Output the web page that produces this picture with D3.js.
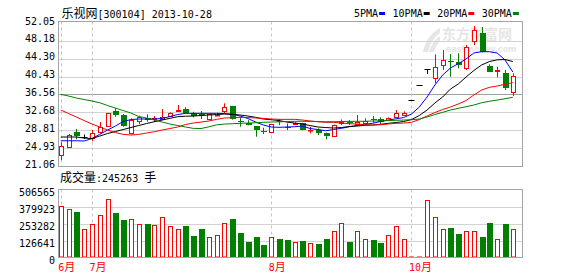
<!DOCTYPE html>
<html><head><meta charset="utf-8">
<script src="https://cdn.jsdelivr.net/npm/d3@7"></script>
<style>html,body{margin:0;padding:0;background:#fff;} svg{display:block;}</style>
</head><body>
<svg id="chart" width="578" height="276"></svg>
<script>
// ---------------- data ----------------
const stockName = "乐视网";
const stockCode = "300104";
const chartDate = "2013-10-28";
const lastVolume = 245263;

const opens  = [23.37,25.17,28.36,27.40,27.19,28.42,29.79,32.97,32.11,28.14, 30.87,31.39,31.17,31.17,31.89,32.91,33.41,32.47,32.30,31.24, 32.10,33.04,34.06,30.90,30.43,29.72,28.70,28.47,30.80,29.60, 30.20,30.31,28.80,28.86,28.27,27.61,30.45,30.55,30.14,30.30, 31.20,31.24,31.02,31.61,32.04,35.36,38.55,42.08,40.06,42.94, 43.90,43.66,42.23,48.21,49.88,42.73,41.60,41.28,37.16];
const highs  = [26.19,27.99,29.07,27.90,28.85,30.59,32.50,33.56,32.32,31.39, 31.96,32.26,31.90,33.41,32.70,34.27,33.78,32.82,32.97,32.30, 32.60,34.64,34.10,31.61,30.99,29.75,29.35,30.10,31.24,30.29, 30.50,30.40,29.56,29.22,28.30,30.00,31.14,31.00,32.11,31.39, 31.89,31.61,31.60,33.19,32.91,35.36,38.55,42.08,45.26,46.20, 45.33,45.48,47.28,51.40,51.18,43.10,42.58,41.86,41.15];
const lows   = [22.35,25.17,26.84,26.90,26.47,28.14,29.79,31.72,29.60,27.92, 30.16,30.65,30.60,31.00,31.80,32.90,32.43,31.61,31.24,31.20, 32.05,32.47,31.10,29.56,29.87,27.40,27.99,28.14,29.92,28.86, 30.00,28.80,28.12,27.77,26.84,27.60,29.94,29.94,30.10,30.20, 30.43,30.16,31.00,31.60,32.00,35.36,38.55,40.99,38.98,41.86, 40.41,42.23,41.86,47.28,45.65,41.40,40.27,37.51,36.23];
const closes = [25.45,27.84,27.55,27.40,28.14,29.57,32.47,32.11,29.79,31.02, 31.61,31.02,31.52,31.61,32.47,33.19,32.61,31.89,32.20,32.25, 32.20,33.78,31.24,30.80,29.87,28.86,28.60,30.09,30.70,29.50, 30.30,28.86,28.90,28.14,27.55,29.94,30.55,30.45,30.65,30.87, 31.10,30.65,31.52,32.47,32.61,35.36,38.55,42.08,42.58,44.03, 43.70,42.94,46.78,50.53,45.87,41.49,41.80,37.90,40.56];
const volumes = [382000,357600,337500,208600,248000,312900,439500,330000,277900,290500, 248000,248000,238400,298000,238000,216000,233000,158700,210800,156400, 163900,260700,285300,181000,114000,151200,91600,156400,136300,128900, 114000,123700,104300,99000,136300,201000,255500,114000,201000,141500, 128900,106500,171300,231000,141500,2000,2500,432000,305400,208600, 218300,173600,201000,195900,151200,255500,141500,248000,216000];

const ma5  = [26.53,26.53,26.53,26.47,27.01,27.92,28.85,29.72,30.70,31.13, 31.24,31.24,31.24,31.35,31.78,32.21,32.47,32.47,32.47,32.47, 32.47,32.43,32.26,31.89,31.35,30.59,29.94,29.51,29.44,29.51, 29.57,29.72,29.18,28.96,28.70,28.96,29.22,29.57,29.83,30.09, 30.31,30.70,31.02,31.28,31.56,32.32,33.84,36.01,38.61,40.78, 42.30,43.23,44.25,45.55,45.83,45.83,45.55,44.03,41.43];
const ma10 = [27.34,27.34,27.34,27.12,27.01,27.55,28.10,28.53,28.96,29.40, 29.83,30.26,30.65,31.02,31.39,31.74,31.85,31.89,32.00,32.11, 32.21,32.32,32.26,32.11,31.89,31.61,31.24,31.09,30.91,30.59, 30.37,30.16,29.83,29.51,29.40,29.29,29.40,29.61,29.72,29.87, 29.94,30.09,30.31,30.48,30.70,31.13,32.00,33.19,34.71,36.01, 37.74,38.83,40.34,41.75,42.95,43.70,44.07,44.14,43.70];
const ma20 = [33.19,32.43,31.67,30.91,30.16,29.51,28.85,28.31,27.92,27.77, 27.92,28.20,28.49,28.85,29.18,29.51,30.05,30.37,30.59,30.81, 31.17,31.46,31.52,31.61,31.56,31.46,31.39,31.24,31.17,31.17, 31.17,31.02,30.81,30.65,30.52,30.52,30.37,30.22,30.16,30.00, 29.94,30.00,30.16,30.31,30.37,30.52,31.13,31.89,32.65,33.30, 33.84,34.49,35.25,36.44,37.53,38.11,38.39,38.76,39.15];
const ma30 = [36.59,36.22,35.79,35.47,35.14,34.77,34.17,33.62,33.08,32.54, 31.78,31.46,31.02,30.59,30.16,29.83,29.51,29.22,29.18,29.55, 29.98,30.15,30.22,30.31,30.37,30.44,30.52,30.59,30.63,30.70, 30.74,30.74,30.74,30.70,30.65,30.65,30.70,30.74,30.74,30.76, 30.81,30.85,30.91,30.96,31.02,31.09,31.24,31.67,32.21,32.69, 33.19,33.56,33.91,34.27,34.77,35.08,35.36,35.64,35.94];

const priceTicks = ["52.05","48.18","44.30","40.43","36.56","32.68","28.81","24.93","21.06"];
const volumeTicks = ["506565","379923","253282","126641","0"];
const monthLabels = ["6月","7月","8月","10月"];
const monthIndex  = [0, 4, 27, 45];
const maNames  = ["5PMA","10PMA","20PMA","30PMA"];
const maColors = ["#0000ff","#000000","#ff0000","#008000"];

// ---------------- layout ----------------
const RED = "#ff0000", GREEN = "#008000";
const mono = "'DejaVu Sans Mono', monospace";
const cjk  = "'Noto Sans CJK SC', sans-serif";
const L = 58.5, R = 522.5;
const PT = 21.5, PB = 166.5;
const VT = 189.5, VB = 257.5;

const svg = d3.select("#chart");
const n = closes.length;
const x = d3.scaleLinear().domain([0, n - 1]).range([60.8, 512.8]);
const pVals = priceTicks.map(Number);
const y = d3.scaleLinear().domain([d3.min(pVals), d3.max(pVals)]).range([166, 23]);
const vVals = volumeTicks.map(Number);
const vy = d3.scaleLinear().domain([0, d3.max(vVals)]).range([VB, VT]);
const col = i => Math.round(x(i));

function richText(g, tx, ty, str, fill, cjkSize, monoSize) {
  const t = g.append("text").attr("x", tx).attr("y", ty).attr("fill", fill || "#000");
  const runs = str.match(/[\x00-\x7f]+|[^\x00-\x7f]+/g) || [];
  runs.forEach(r => {
    const isA = /^[\x00-\x7f]+$/.test(r);
    t.append("tspan").text(r)
      .attr("font-family", isA ? mono : cjk)
      .attr("font-size", isA ? (monoSize || 10) : (cjkSize || 12))
      .style("white-space", "pre");
  });
  t.attr("xml:space", "preserve");
  return t;
}

// ---------------- watermark ----------------
const wm = svg.append("g").attr("fill", "#e6e6e6");
wm.append("path").attr("d", "M423,52 C425,42 430,33 440,28 L440,33 C434,37 430,44 428,52 Z");
wm.append("path").attr("d", "M429,52 C431,45 435,39 440,36 L440,41 C437,44 435,48 434,52 Z");
wm.append("text").attr("x", 442).attr("y", 39).attr("font-family", cjk).attr("font-weight", "bold")
  .attr("font-size", 14).text("东方财富网");
wm.append("text").attr("x", 446).attr("y", 51.5).attr("font-family", "'DejaVu Sans', sans-serif")
  .attr("font-weight", "bold").attr("font-size", 8).text("eastmoney.com");

// ---------------- grids ----------------
const grid = svg.append("g");
pVals.forEach((p, k) => {
  if (k === 0 || k === pVals.length - 1) return;
  const gy = Math.round(y(p)) + 0.5;
  grid.append("line").attr("x1", L).attr("x2", R).attr("y1", gy).attr("y2", gy)
    .attr("stroke", k === 4 ? "#a0a0a0" : "#d2d2d2").attr("stroke-width", 1);
});
vVals.forEach((v, k) => {
  if (k === 0 || k === vVals.length - 1) return;
  const gy = Math.round(vy(v)) + 0.5;
  grid.append("line").attr("x1", L).attr("x2", R).attr("y1", gy).attr("y2", gy)
    .attr("stroke", "#d2d2d2").attr("stroke-width", 1);
});
monthIndex.forEach(mi => {
  const gx = col(mi) + 0.5;
  [[PT, PB], [VT, VB]].forEach(([a, b]) => {
    grid.append("line").attr("x1", gx).attr("x2", gx).attr("y1", a).attr("y2", b)
      .attr("stroke", "#c4c4c4").attr("stroke-dasharray", "3,3");
  });
});

// ---------------- candles ----------------
const cg = svg.append("g");
for (let i = 0; i < n; i++) {
  const c = col(i) + 0.5;
  const o = opens[i], cl = closes[i];
  const color = cl > o ? RED : (cl < o ? GREEN : "#000");
  cg.append("line").attr("x1", c).attr("x2", c)
    .attr("y1", y(highs[i])).attr("y2", y(lows[i])).attr("stroke", color);
  if (cl > o) {
    const top = y(cl), bot = y(o);
    cg.append("rect").attr("x", c - 2).attr("width", 4)
      .attr("y", Math.round(top) + 0.5).attr("height", Math.max(0.5, Math.round(bot) - Math.round(top)))
      .attr("fill", "#fff").attr("stroke", RED);
  } else if (cl < o) {
    const top = y(o), bot = y(cl);
    cg.append("rect").attr("x", c - 2.5).attr("width", 6)
      .attr("y", Math.round(top)).attr("height", Math.max(1, Math.round(bot) - Math.round(top)))
      .attr("fill", GREEN);
  } else {
    const yy = Math.round(y(o)) + 0.5;
    cg.append("line").attr("x1", c - 3).attr("x2", c + 3).attr("y1", yy).attr("y2", yy).attr("stroke", "#000");
  }
}

// ---------------- MA lines ----------------
const line = d3.line().x((d, i) => x(i)).y(d => y(d));
[ma5, ma10, ma20, ma30].forEach((arr, k) => {
  svg.append("path").datum(arr).attr("d", line).attr("fill", "none")
    .attr("stroke", maColors[k]).attr("stroke-width", 1);
});

// ---------------- volume bars ----------------
const vg = svg.append("g");
for (let i = 0; i < n; i++) {
  const c = col(i) + 0.5;
  const up = closes[i] >= opens[i];
  const top = vy(volumes[i]);
  if (up) {
    vg.append("rect").attr("x", c - 2).attr("width", 4)
      .attr("y", Math.min(Math.round(top) + 0.5, VB - 0.5))
      .attr("height", Math.max(0.3, VB - 0.5 - (Math.round(top) + 0.5)))
      .attr("fill", "#fff").attr("stroke", RED);
  } else {
    vg.append("rect").attr("x", c - 2.5).attr("width", 6)
      .attr("y", Math.round(top)).attr("height", VB - Math.round(top))
      .attr("fill", GREEN);
  }
}

// ---------------- frames ----------------
svg.append("rect").attr("x", L).attr("y", PT).attr("width", R - L).attr("height", PB - PT)
  .attr("fill", "none").attr("stroke", "#a4a4a4");
svg.append("rect").attr("x", L).attr("y", VT).attr("width", R - L).attr("height", VB - VT)
  .attr("fill", "none").attr("stroke", "#a4a4a4");

// ---------------- axis labels ----------------
const ax = svg.append("g").attr("font-family", mono).attr("font-size", 10).attr("fill", "#000");
priceTicks.forEach((t, k) => {
  ax.append("text").attr("x", 55).attr("y", y(pVals[k]) + 1.5).attr("text-anchor", "end").text(t);
});
volumeTicks.forEach((t, k) => {
  ax.append("text").attr("x", 55).attr("y", vy(vVals[k]) + 6.5).attr("text-anchor", "end").text(t);
});
monthLabels.forEach((m, k) => {
  richText(svg, x(monthIndex[k]) - 2.5, 271, m, RED, 11, 10);
});

// ---------------- title / legend ----------------
richText(svg, 61.5, 17.5, stockName + "[" + stockCode + "] " + chartDate, "#000", 12, 10);
richText(svg, 60, 181.5, "成交量:" + lastVolume + " 手", "#000", 12, 10);

let lx = 354;
maNames.forEach((nm, k) => {
  svg.append("text").attr("x", lx).attr("y", 17).attr("font-family", mono).attr("font-size", 10)
    .attr("fill", "#000").text(nm);
  const tw = nm.length * 6.02;
  svg.append("rect").attr("x", lx + tw + 1).attr("y", 12).attr("width", 6).attr("height", 3)
    .attr("fill", maColors[k]);
  lx += tw + 1 + 6 + 7.5;
});
</script>
</body></html>
